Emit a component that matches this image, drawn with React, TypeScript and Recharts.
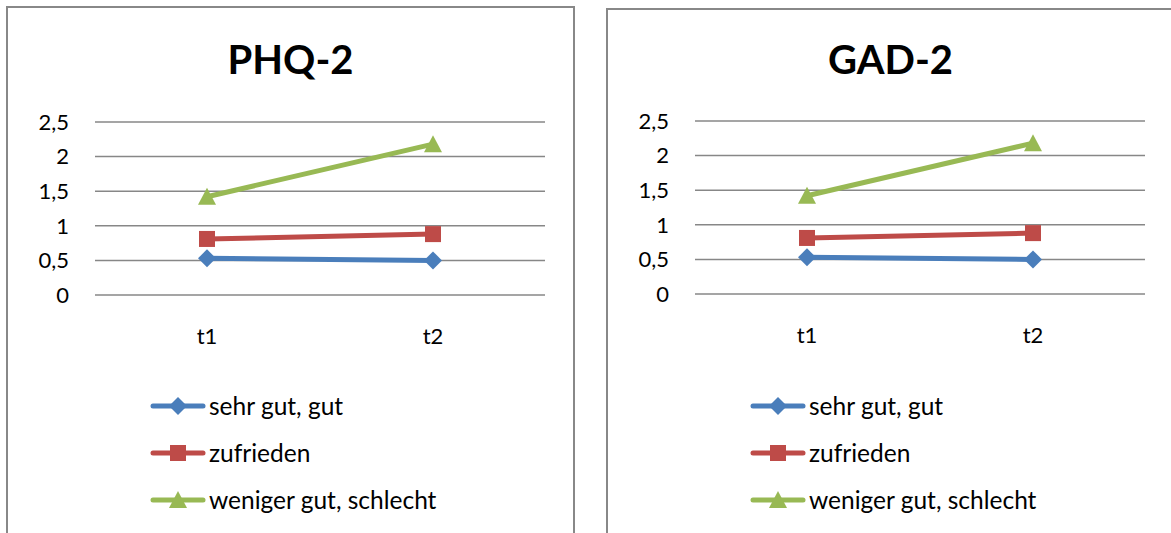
import { LineChart, Line, XAxis, YAxis, CartesianGrid, Legend } from "recharts";

const times = ["t1", "t2"];
const phqSehrGut = [0.53, 0.5];
const phqZufrieden = [0.81, 0.88];
const phqWenigerGut = [1.42, 2.18];
const gadSehrGut = [0.53, 0.5];
const gadZufrieden = [0.81, 0.88];
const gadWenigerGut = [1.42, 2.18];
const yTicks = [0, 0.5, 1, 1.5, 2, 2.5];

const series = [
  { key: "sehrGut", name: "sehr gut, gut", color: "#4A7EBB", shape: "diamond" },
  { key: "zufrieden", name: "zufrieden", color: "#BE4B48", shape: "square" },
  { key: "wenigerGut", name: "weniger gut, schlecht", color: "#98B954", shape: "triangle" },
];

const font = "Lato, 'Open Sans', sans-serif";

const build = (a: number[], b: number[], c: number[]) =>
  times.map((t, i) => ({ t, sehrGut: a[i], zufrieden: b[i], wenigerGut: c[i] }));

const phqData = build(phqSehrGut, phqZufrieden, phqWenigerGut);
const gadData = build(gadSehrGut, gadZufrieden, gadWenigerGut);

function Marker({ cx, cy, shape, color }: { cx?: number; cy?: number; shape: string; color: string }) {
  if (cx == null || cy == null) return null;
  if (shape === "diamond")
    return <path d={`M${cx},${cy - 9} L${cx + 9},${cy} L${cx},${cy + 9} L${cx - 9},${cy} Z`} fill={color} />;
  if (shape === "square") return <rect x={cx - 8} y={cy - 8} width={16} height={16} fill={color} />;
  return <path d={`M${cx},${cy - 9} L${cx + 9},${cy + 8} L${cx - 9},${cy + 8} Z`} fill={color} />;
}

function LegendBox(props: any) {
  const payload = props.payload || [];
  // keep the series order, not the legend's alphabetical one
  const items = series
    .map((s) => ({ s, p: payload.find((p: any) => p.dataKey === s.key) }))
    .filter((x) => x.p);
  return (
    <div style={{ height: 141, fontFamily: font, fontSize: 24.5, color: "#000" }}>
      {items.map(({ s, p }) => (
        <div key={s.key} style={{ height: 47, display: "flex", alignItems: "center" }}>
          <svg width={56} height={20}>
            <line x1={3} x2={53} y1={10} y2={10} stroke={s.color} strokeWidth={5} strokeLinecap="round" />
            <Marker cx={28} cy={10} shape={s.shape} color={s.color} />
          </svg>
          <span style={{ marginLeft: 3 }}>{p.value}</span>
        </div>
      ))}
    </div>
  );
}

function Panel({
  title,
  data,
  left,
  top,
  plotTop,
}: {
  title: string;
  data: any[];
  left: number;
  top: number;
  plotTop: number;
}) {
  const chartH = 527;
  const plotH = 173;
  const bottom = chartH - plotTop - plotH - 60 - 141;
  return (
    <div
      style={{
        position: "absolute",
        left,
        top,
        width: 569,
        height: 545,
        border: "2px solid #888",
        boxSizing: "border-box",
        background: "#fff",
      }}
    >
      <div
        style={{
          position: "absolute",
          left: 0,
          right: 0,
          top: 31 - (top - 6),
          textAlign: "center",
          fontFamily: font,
          fontWeight: 700,
          fontSize: 40,
          lineHeight: "40px",
          color: "#000",
        }}
      >
        {title}
      </div>
      <LineChart width={565} height={chartH} data={data} margin={{ top: plotTop, right: 28, left: 27, bottom }}>
        <CartesianGrid vertical={false} stroke="#878787" strokeWidth={1.5} />
        <XAxis
          dataKey="t"
          axisLine={false}
          tickLine={false}
          tickSize={0}
          tickMargin={33}
          height={60}
          padding={{ left: 112, right: 112 }}
          tick={{ fontSize: 22, fill: "#000", fontFamily: font }}
        />
        <YAxis
          domain={[0, 2.5]}
          ticks={yTicks}
          axisLine={false}
          tickLine={false}
          tickSize={0}
          tickMargin={26}
          width={60}
          tickFormatter={(v) => String(v).replace(".", ",")}
          tick={{ fontSize: 22, fill: "#000", fontFamily: font }}
        />
        <Legend
          layout="horizontal"
          verticalAlign="bottom"
          align="center"
          content={<LegendBox />}
          wrapperStyle={{ left: 142, top: 374 - (top - 6), width: 400, bottom: "auto" }}
        />
        {series.map((s) => (
          <Line
            key={s.key}
            dataKey={s.key}
            name={s.name}
            stroke={s.color}
            strokeWidth={5}
            isAnimationActive={false}
            dot={(p: any) => <Marker key={`${s.key}-${p.index}`} cx={p.cx} cy={p.cy} shape={s.shape} color={s.color} />}
            activeDot={false}
          />
        ))}
      </LineChart>
    </div>
  );
}

export default function App() {
  return (
    <div
      style={{
        position: "absolute",
        left: 0,
        top: 0,
        width: 1171,
        height: 533,
        overflow: "hidden",
        background: "#fff",
      }}
    >
      <Panel title="PHQ-2" data={phqData} left={6} top={6} plotTop={114} />
      <Panel title="GAD-2" data={gadData} left={606} top={8} plotTop={111} />
    </div>
  );
}
